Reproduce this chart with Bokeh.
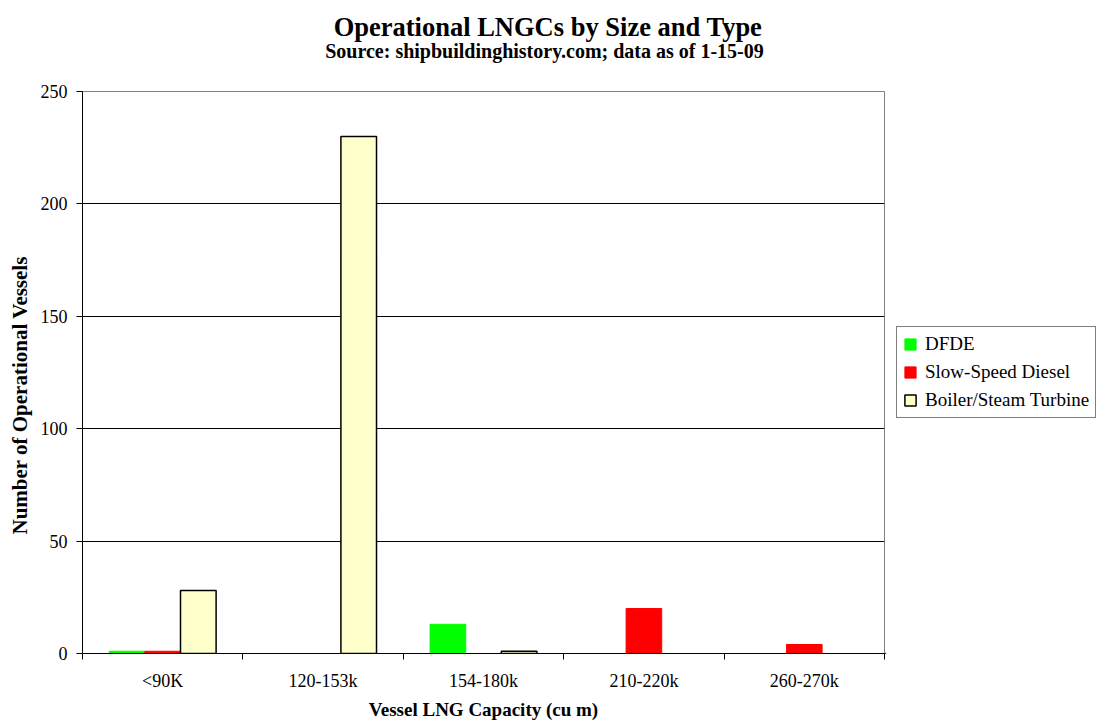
from bokeh.plotting import figure
from bokeh.models import Range1d, FixedTicker, Legend, LegendItem, Title, ColumnDataSource, Label
from bokeh.layouts import column, row
from bokeh.embed import file_html
from bokeh.resources import INLINE

categories = ["<90K", "120-153k", "154-180k", "210-220k", "260-270k"]
dfde = [1, 0, 13, 0, 0]
slow_speed_diesel = [1, 0, 0, 20, 4]
boiler_steam_turbine = [28, 230, 1, 0, 0]
series_names = ["DFDE", "Slow-Speed Diesel", "Boiler/Steam Turbine"]
y_ticks = [0, 50, 100, 150, 200, 250]
title_text = "Operational LNGCs by Size and Type"
subtitle_text = "Source:  shipbuildinghistory.com; data as of 1-15-09"

FONT = "Liberation Serif"
BAR_W = 0.222
HEAD_H = 70

# ---------- header (titles) ----------
header = figure(width=1101, height=HEAD_H, x_range=Range1d(0, 1101), y_range=Range1d(0, HEAD_H),
                x_axis_location=None, y_axis_location=None, min_border=0,
                toolbar_location=None, output_backend="svg")
header.outline_line_color = None
header.grid.visible = False
header.add_layout(Label(x=547.5, y=HEAD_H - 26.5, text=title_text, text_align="center",
                        text_baseline="alphabetic", text_font=FONT, text_font_size="26.5px",
                        text_font_style="bold", text_color="black"))
header.add_layout(Label(x=546.5, y=HEAD_H - 50.5, text=subtitle_text, text_align="center",
                        text_baseline="alphabetic", text_font=FONT, text_font_size="20px",
                        text_font_style="bold", text_color="black"))

# ---------- main plot ----------
p = figure(frame_width=802, frame_height=562, output_backend="svg", toolbar_location=None,
           x_range=Range1d(0, len(categories)), y_range=Range1d(0, 250),
           min_border_left=82, min_border_right=1, min_border_top=91 - HEAD_H,
           min_border_bottom=72, title=None)
p.background_fill_color = "white"
p.border_fill_color = "white"
p.outline_line_color = "#808080"
p.outline_line_width = 1

series = [
    (dfde, -BAR_W, "#00FF00", "#00FF00", 1),
    (slow_speed_diesel, 0.0, "#FF0000", "#FF0000", 1),
    (boiler_steam_turbine, BAR_W, "#FFFFCC", "black", 1.5),
]
sources = []
for name, (vals, off, fill, line, lw) in zip(series_names, series):
    xs = [i + 0.5 + off for i, v in enumerate(vals) if v > 0]
    tops = [v for v in vals if v > 0]
    src = ColumnDataSource(dict(x=xs, top=tops))
    sources.append(src)
    p.vbar(x="x", top="top", bottom=0, width=BAR_W, source=src,
           fill_color=fill, line_color=line, line_width=lw)

xa = p.xaxis[0]
xa.ticker = FixedTicker(ticks=[i + 0.5 for i in range(len(categories))],
                        minor_ticks=list(range(len(categories) + 1)))
xa.major_label_overrides = {i + 0.5: c for i, c in enumerate(categories)}
xa.major_tick_line_color = None
xa.major_tick_out = 6
xa.major_tick_in = 0
xa.minor_tick_line_color = "black"
xa.minor_tick_out = 6
xa.minor_tick_in = 0
xa.axis_line_color = "black"
xa.major_label_text_font = FONT
xa.major_label_text_font_size = "18px"
xa.major_label_text_color = "black"
xa.major_label_standoff = 11
xa.axis_label = "Vessel LNG Capacity (cu m)"
xa.axis_label_text_font = FONT
xa.axis_label_text_font_size = "19px"
xa.axis_label_text_font_style = "bold"
xa.axis_label_text_color = "black"
xa.axis_label_standoff = 5

ya = p.yaxis[0]
ya.ticker = FixedTicker(ticks=y_ticks)
ya.minor_tick_line_color = None
ya.major_tick_out = 6
ya.major_tick_in = 0
ya.major_tick_line_color = "black"
ya.axis_line_color = "black"
ya.major_label_text_font = FONT
ya.major_label_text_font_size = "18px"
ya.major_label_text_color = "black"
ya.major_label_standoff = 9

p.xgrid.grid_line_color = None
p.ygrid.ticker = FixedTicker(ticks=y_ticks)
p.ygrid.grid_line_color = "black"
p.ygrid.grid_line_width = 1

ylab = Title(text="Number of Operational Vessels", align="left", offset=119,
             text_font=FONT, text_font_size="21px", text_font_style="bold",
             text_color="black", standoff=11)
p.add_layout(ylab, "left")

# ---------- legend host (its bars fall outside its own ranges) ----------
q = figure(width=216, height=(91 - HEAD_H) + 562 + 72,
           x_range=Range1d(100, 101), y_range=Range1d(1000, 1001),
           x_axis_location=None, y_axis_location=None, min_border=0,
           toolbar_location=None, output_backend="svg")
q.outline_line_color = None
q.grid.visible = False
items = []
for name, src, (vals, off, fill, line, lw) in zip(series_names, sources, series):
    r = q.vbar(x="x", top="top", bottom=0, width=BAR_W, source=src,
               fill_color=fill, line_color=line, line_width=lw)
    items.append(LegendItem(label=name, renderers=[r]))

legend = Legend(items=items, location=(11, 235), orientation="vertical",
                label_text_font=FONT, label_text_font_size="19px", label_text_color="black",
                glyph_width=14, glyph_height=14, label_height=20, label_standoff=8,
                spacing=6, padding=6, margin=0,
                border_line_color="black", border_line_width=1,
                background_fill_color="white", background_fill_alpha=1)
q.add_layout(legend, "center")

layout = column(header, row(p, q))
open("out.html", "w").write(file_html(layout, INLINE))
